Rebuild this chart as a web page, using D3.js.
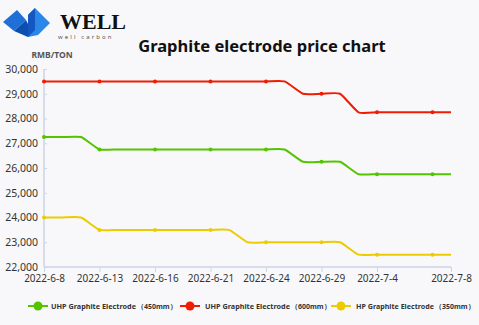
<!DOCTYPE html>
<html><head><meta charset="utf-8">
<script src="https://cdn.jsdelivr.net/npm/d3@7"></script>
<style>
html,body{margin:0;padding:0;background:#f8f8fa;}
svg{display:block;font-family:"Noto Sans","Open Sans",sans-serif;}
</style></head>
<body><svg id="c" width="479" height="325"></svg>
<script>
const dates = ["2022-6-8","2022-6-9","2022-6-10","2022-6-13","2022-6-14","2022-6-15","2022-6-16","2022-6-17","2022-6-20","2022-6-21","2022-6-22","2022-6-23","2022-6-24","2022-6-27","2022-6-28","2022-6-29","2022-6-30","2022-7-1","2022-7-4","2022-7-5","2022-7-6","2022-7-7","2022-7-8"];
const uhp450 = [27250,27250,27250,26750,26750,26750,26750,26750,26750,26750,26750,26750,26750,26750,26250,26250,26250,25750,25750,25750,25750,25750,25750];
const uhp600 = [29500,29500,29500,29500,29500,29500,29500,29500,29500,29500,29500,29500,29500,29500,29000,29000,29000,28250,28250,28250,28250,28250,28250];
const hp350  = [24000,24000,24000,23500,23500,23500,23500,23500,23500,23500,23500,23000,23000,23000,23000,23000,23000,22500,22500,22500,22500,22500,22500];
const yTicks = [22000,23000,24000,25000,26000,27000,28000,29000,30000];
const xLabels = ["2022-6-8","2022-6-13","2022-6-16","2022-6-21","2022-6-24","2022-6-29","2022-7-4","2022-7-8"];
const seriesNames = ["UHP Graphite Electrode","UHP Graphite Electrode","HP Graphite Electrode"];
const seriesSizes = ["（450mm）","（600mm）","（350mm）"];
const colors = ["#55c400","#ee1c00","#eccb00"];
const title = "Graphite electrode price chart";

const svg = d3.select("#c");
const x = d3.scalePoint().domain(dates).range([44, 451]);
const y = d3.scaleLinear().domain([22000, 30000]).range([267, 69]);

// logo
const logo = svg.append("g");
logo.append("path").attr("d","M3,22 L17,10 L26,20 L14,31 Z").attr("fill","#1f6fd6");
logo.append("path").attr("d","M14,31 L26,20 L28,24 L28,37 Z").attr("fill","#0b4fb0");
logo.append("path").attr("d","M28,37 L28,15 L35,8 L50,23 L38,35 Z").attr("fill","#2a86e8");
logo.append("path").attr("d","M28,15 L35,8 L35,30 L28,37 Z").attr("fill","#1557c0");
logo.append("text").attr("x",60).attr("y",29).attr("font-family","'Liberation Serif','DejaVu Serif',serif")
  .attr("font-weight","bold").attr("font-size",22).attr("fill","#111").text("WELL");
logo.append("text").attr("x",58).attr("y",39).attr("font-size",6).attr("fill","#555")
  .attr("letter-spacing",2.1).text("well carbon");

svg.append("text").attr("x",262).attr("y",52).attr("text-anchor","middle").attr("font-weight","bold")
  .attr("font-size",16.5).attr("fill","#111").text(title);
svg.append("text").attr("x",52).attr("y",58).attr("text-anchor","middle").attr("font-weight","bold")
  .attr("font-size",8.5).attr("fill","#555").text("RMB/TON");

const axisColor = "#ccd4e6";
// y axis
const ya = svg.append("g").attr("transform","translate(44,0)")
  .call(d3.axisLeft(y).tickValues(yTicks).tickSize(-3).tickPadding(6).tickFormat(d3.format(",")));
ya.select(".domain").attr("stroke",axisColor).attr("stroke-width",1.5).attr("d","M0,69V267");
ya.selectAll(".tick line").attr("stroke",axisColor);
ya.selectAll("text").attr("font-size",10.5).attr("fill","#333").attr("font-family","'Noto Sans',sans-serif");

// x axis
const xa = svg.append("g").attr("transform","translate(0,267)")
  .call(d3.axisBottom(x).tickValues(xLabels).tickSize(5).tickPadding(3));
xa.select(".domain").attr("stroke",axisColor).attr("stroke-width",1.5).attr("d","M44,0H451");
xa.selectAll(".tick line").attr("stroke",axisColor);
xa.selectAll("text").attr("font-size",10).attr("fill","#333").attr("font-family","'Noto Sans',sans-serif");

const data = [uhp450, uhp600, hp350];
const line = d3.line().x((d,i)=>x(dates[i])).y(d=>y(d)).curve(d3.curveCardinal.tension(0.5));
data.forEach((s,k)=>{
  svg.append("path").attr("d",line(s)).attr("fill","none").attr("stroke",colors[k]).attr("stroke-width",2);
  svg.append("g").selectAll("circle").data(s.map((v,i)=>({v,i})).filter(d=>d.i%3===0 && d.i<22))
    .join("circle").attr("cx",d=>x(dates[d.i])).attr("cy",d=>y(d.v)).attr("r",2).attr("fill",colors[k]);
});

// legend
const legX = [28, 180, 331];
const nameW = [85, 85, 78];
seriesNames.forEach((n,k)=>{
  const g = svg.append("g").attr("transform",`translate(${legX[k]},306)`);
  g.append("line").attr("x1",0).attr("x2",20).attr("y1",0).attr("y2",0).attr("stroke",colors[k]).attr("stroke-width",2);
  g.append("circle").attr("cx",10).attr("cy",0).attr("r",4.5).attr("fill",colors[k]);
  const tx = k===0?23:25;
  g.append("text").attr("x",tx).attr("y",3).attr("font-size",7.5).attr("font-weight","bold").attr("fill","#333")
    .attr("textLength",nameW[k]).attr("lengthAdjust","spacingAndGlyphs").text(n);
  g.append("text").attr("x",tx+nameW[k]+1).attr("y",3).attr("font-size",7).attr("font-weight","bold").attr("fill","#333")
    .text(seriesSizes[k]);
});
</script></body></html>
